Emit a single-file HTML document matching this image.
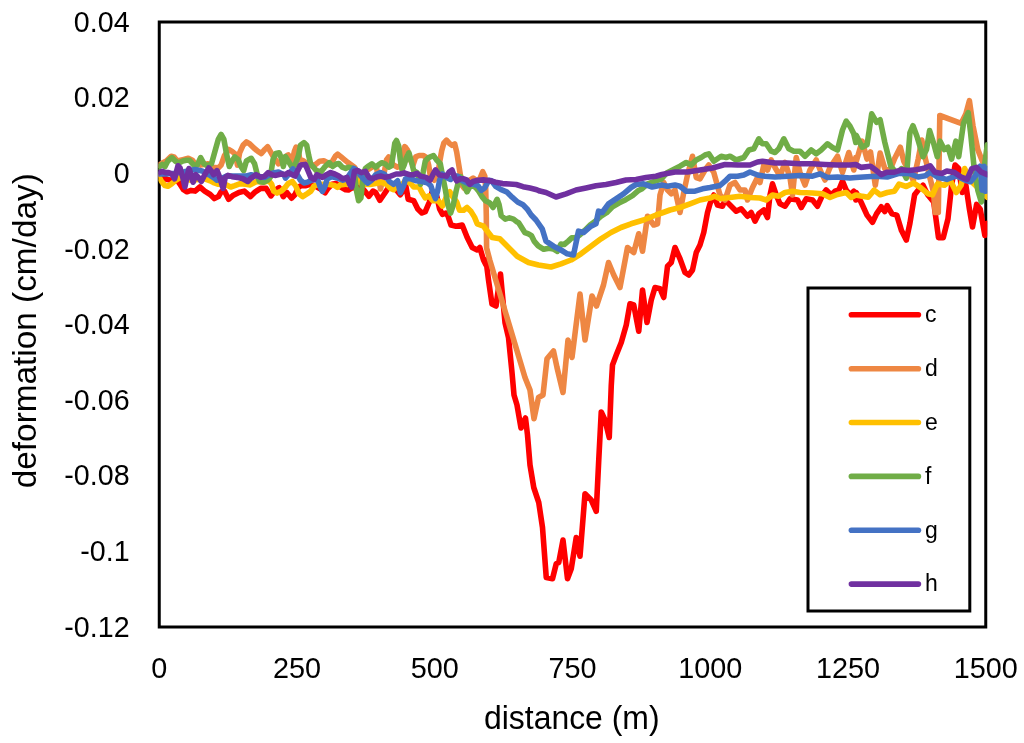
<!DOCTYPE html>
<html lang="en"><head><meta charset="utf-8"><title>deformation vs distance</title>
<style>html,body{margin:0;padding:0;background:#fff}body{width:1024px;height:743px;overflow:hidden}</style></head>
<body>
<svg width="1024" height="743" viewBox="0 0 1024 743" style="display:block;font-family:'Liberation Sans', Arial, sans-serif">
<rect x="0" y="0" width="1024" height="743" fill="#ffffff"/>
<defs><clipPath id="pc"><rect x="158.4" y="15" width="828.9" height="620"/></clipPath></defs>
<rect x="159.25" y="22.0" width="826.5" height="605.0" fill="none" stroke="#000" stroke-width="3"/>
<g clip-path="url(#pc)" fill="none" stroke-width="5.6" stroke-linejoin="round" stroke-linecap="round">
<polyline stroke="#FF0000" points="158.9,174.7 163.7,177.4 167.1,179.5 171.9,180.2 177.3,180.2 180.8,185.6 183.5,189.7 186.9,191.8 191.0,190.4 195.1,191.1 199.9,187.0 204.7,191.1 210.2,194.5 214.3,198.6 218.4,196.6 221.1,191.8 224.5,191.1 228.6,199.3 233.4,195.2 238.9,192.5 244.3,191.1 250.5,196.6 255.3,191.8 260.7,188.4 266.2,188.4 271.0,195.9 275.1,190.4 279.2,187.7 283.3,196.6 286.8,192.5 291.6,198.2 295.0,194.5 298.5,187.0 301.9,185.4 306.0,185.6 310.1,184.3 314.2,185.6 319.6,188.4 325.1,192.7 327.9,188.4 332.0,184.3 336.1,183.6 340.8,187.0 345.6,189.7 348.4,190.0 351.1,188.4 356.6,187.0 362.0,187.7 364.8,191.1 368.9,196.2 373.0,191.1 375.7,192.5 379.8,200.3 383.9,194.5 388.0,188.4 392.1,187.7 396.2,189.7 400.3,194.8 403.7,189.7 405.5,184.3 408.2,199.3 413.7,200.7 417.8,208.9 421.9,213.0 425.3,211.6 429.4,202.0 432.1,191.8 436.9,196.6 439.6,208.9 442.4,214.3 445.8,213.0 447.9,215.7 449.5,220.5 451.0,225.0 456.0,226.2 462.2,225.0 467.2,237.5 472.2,247.5 477.2,250.0 479.8,247.5 483.5,260.0 486.0,265.0 486,260 488.5,280 492,304 496,306 500.5,274 505,322.5 508.5,337.5 512,372.5 514,395 517,405 521,428 525.5,418 527.5,435 530,465 533.75,487.5 538.75,502.5 542.5,527.5 546.25,577.5 552.5,578.75 556.25,563.75 558.75,562.5 563,540 567.5,578.75 571.25,568.75 576.25,537.5 580,556.25 585,493.75 591.25,500 596.25,511.25 598.75,460 601.25,412 605,420 609.25,437.5 611.25,385.75 612.5,365 616.25,355 621.25,342.5 626.25,325 630,303.75 633.75,305 638.75,331.25 642.5,290 647,322.5 651.25,300 655,287.5 660,288.75 663.75,297.5 667.5,266.25 671.25,262.5 675,247.5 680,258.75 685,272.5 688.75,275 692.5,270 696.25,252.5 700,245 703.75,232.5 707.5,212.5 710,203.75 713.8,195.0 717.5,205.0 722.5,206.2 725.0,200.0 730.0,205.0 736.2,211.2 741.2,208.8 747.5,216.2 751.2,212.5 755.0,221.2 758.8,213.8 763.8,210.0 767.5,217.5 770.0,195.0 772.5,183.8 776.2,195.0 780.0,203.8 785.0,206.2 790.0,198.8 797.5,200.0 801.2,207.5 806.2,198.8 812.5,200.0 817.5,206.2 822.5,195.0 826.2,190.0 831.2,195.0 835.0,191.2 838.8,190.0 842.5,181.2 846.2,190.0 850.0,195.0 853.8,191.2 855.8,200.0 856.2,192.5 861.0,202.0 867.0,215.1 872.5,222.2 876.5,213.9 881.3,206.8 884.8,211.5 887.2,205.6 892.0,213.9 896.8,215.1 901.5,230.6 906.3,240.1 909.9,223.4 914.6,194.8 918.2,190.1 923.0,185.3 927.7,194.8 933.7,202.0 938.5,237.7 943.2,237.7 948.0,218.7 951.6,185.3 955.1,165.1 958.7,168.6 962.3,192.5 965.9,185.3 969.4,209.1 972.5,227.0 976.6,204.4 980.2,209.1 984.9,235.4 987.3,223.4"/>
<polyline stroke="#EE8743" points="158.9,165.1 162.3,163.1 166.4,161.0 171.2,156.2 173.9,156.9 177.3,161.0 182.8,159.6 188.3,158.3 192.4,160.3 195.1,163.8 200.6,165.1 208.1,163.8 211.5,167.2 218.4,167.9 221.1,165.1 224.5,155.5 228.6,149.4 232.0,151.4 235.4,154.2 237.5,165.1 239.6,152.8 243.0,145.3 246.4,141.9 249.8,143.9 253.9,148.0 258.0,151.4 261.4,153.5 264.8,149.4 267.6,146.7 270.3,151.4 273.0,156.2 278.5,163.8 285.5,156.6 288.2,154.9 292.3,161.0 294.4,151.4 296.1,147.1 298.0,149.4 299.8,159.6 303.2,160.7 307.3,163.8 311.4,165.8 315.5,164.4 319.6,161.3 323.8,160.7 327.2,162.4 329.9,165.1 332.6,161.0 335.4,156.2 337.7,154.2 340.8,156.6 344.3,159.6 347.7,162.4 351.1,164.8 354.5,167.2 357.2,172.0 360.0,180.2 362.0,174.7 364.8,170.6 368.9,169.2 373.0,166.5 376.4,167.2 378.4,177.4 380.5,189.0 382.5,180.2 384.6,170.6 386.6,159.6 388.7,156.9 391.0,161.0 393.5,165.1 397.6,167.2 401.0,165.1 403.0,151.4 404.7,146.7 405.5,147.3 407.5,150.1 410.3,159.6 413.0,165.1 415.7,156.9 419.1,155.5 423.2,155.5 426.7,157.6 428.7,165.1 430.1,174.7 434.2,180.2 438.3,172.0 439.6,162.4 441.7,150.8 443.8,143.2 446.5,140.2 449.2,143.2 452.0,145.3 454.7,143.9 456.7,152.1 458.8,165.1 460.8,177.4 462.2,185.6 464.3,188.4 468.4,181.2 473.1,178.1 477.2,181.2 480.0,178.5 482.7,171.7 484.8,176.1 485.7,188.4 486.3,215.7 486.6,248.0 489.75,260 525,377.5 530,390 534,418.75 538.5,397.5 543,395 547,358.75 553.5,351 557,367.5 563,392.5 568,340 572,357.5 580,294 585,340 592,296 596.5,306 603.5,285 608.5,262.5 613.75,275 620,287.5 627.5,247.5 633.75,252.5 638.75,233.75 642.5,251.25 647.5,216.25 653.75,225 657.5,223.75 660,195 663.75,182.5 667.5,190 671.25,193.75 675,190 680,212.5 683.75,192.5 687.5,175 692.5,156.25 696.25,177.5 700.0,178.8 705.0,170.0 708.8,165.0 713.8,172.5 720.0,195.0 725.0,200.0 730.0,185.0 735.0,182.5 740.0,190.0 745.0,190.0 747.5,200.0 752.5,187.5 757.5,177.5 760.0,182.5 763.8,165.0 767.5,170.0 771.2,160.0 775.0,167.5 780.0,176.2 785.0,162.5 790.0,177.5 792.5,195.0 796.2,157.5 800.0,172.5 805.0,185.0 810.0,170.0 816.2,160.0 821.2,172.5 825.0,180.0 830.0,167.5 837.5,156.2 842.5,172.5 848.8,152.5 853.8,170.0 855.8,157.5 856.2,161.5 862.2,141.2 867.0,159.1 870.5,152.0 875.3,185.3 880.1,153.1 884.8,168.6 889.6,171.0 894.4,159.1 900.3,147.2 903.9,161.5 908.7,171.0 913.4,180.5 918.2,159.1 921.8,140.0 925.4,159.1 926.5,163 930,178 933.5,192 935.2,212.5 938.3,212.5 939.8,115.5 961.1,123.4 965.9,113.8 969.4,100.7 973.0,125.7 977.8,149.6 982.5,161.5 987.3,154.3"/>
<polyline stroke="#FFC000" points="158.9,176.7 161.6,181.5 165.0,185.6 167.8,186.3 171.9,183.6 176.0,180.2 180.1,177.4 191.0,180.2 204.7,178.8 210.2,180.8 214.3,182.9 218.4,184.3 226.6,184.9 230.7,187.0 234.8,185.6 240.2,183.6 245.7,184.3 249.8,184.9 256.6,181.5 263.5,182.2 268.9,180.8 271.7,184.3 273.7,191.1 277.1,193.1 281.2,191.1 285.5,187.0 288.2,183.6 292.3,181.5 295.7,185.9 299.1,193.8 302.6,196.6 307.3,193.6 310.8,191.1 314.2,185.9 319.6,184.3 327.9,184.3 334.7,185.6 337.4,187.3 340.2,184.9 345.6,184.3 352.5,183.6 359.3,180.8 362.0,184.3 370.2,184.5 375.7,183.6 381.2,182.2 386.6,184.3 390.7,188.4 393.5,189.7 396.2,187.0 403.0,183.6 405.5,180.2 410.9,183.6 413.7,187.0 419.1,187.0 421.9,192.5 425.3,197.9 428.7,195.9 432.8,200.7 438.3,200.7 442.4,206.1 446.5,196.6 449.9,191.8 452.6,196.6 456.7,202.0 459.5,210.2 463.6,210.2 467.0,207.5 471.1,211.6 474.5,217.1 477.2,223.8 483.5,226.2 492.2,237.5 499.8,238.8 508.5,247.5 517.2,256.2 528.5,262.5 538.5,265.0 551.0,267.0 561.0,263.8 571.0,260.0 581.0,253.8 591.0,246.2 601.0,238.8 611.0,232.5 621.0,227.5 631.0,223.8 643.5,220.0 656.0,215.0 661.8,213.0 670.0,210.0 680.0,207.5 690.0,203.8 700.0,200.0 710.0,198.0 715.0,196.2 720.0,198.8 730.0,197.5 740.0,196.2 750.0,197.5 760.0,198.0 766.2,200.0 772.5,195.0 778.8,196.2 785.0,192.5 792.5,191.2 800.0,192.5 812.5,193.0 822.5,193.8 830.0,197.5 837.5,194.5 846.2,192.5 851.2,197.5 855.8,195.0 861.0,196.0 868.2,197.2 874.1,190.1 880.1,194.8 887.2,192.5 894.4,191.3 899.1,184.1 906.3,186.5 913.4,182.9 920.6,187.7 927.7,193.7 932.5,194.8 937.3,184.1 944.4,185.3 950.4,180.5 956.3,192.5 961.1,185.3 964.7,168.6 968.2,175.8 973.0,182.9 980.2,190.1 987.3,197.2"/>
<polyline stroke="#70AD47" points="158.9,167.2 162.3,164.4 165.0,166.5 167.8,161.0 171.9,157.6 175.3,161.0 178.7,163.1 182.8,161.0 186.2,160.3 189.6,160.3 193.8,165.1 197.2,165.1 200.6,157.6 204.0,163.8 207.4,165.8 211.5,163.8 214.9,151.4 218.4,139.1 221.1,134.4 223.8,139.1 226.6,154.2 229.3,166.5 232.0,161.0 234.8,156.9 238.2,159.6 240.9,166.5 243.7,170.6 246.4,161.0 251.2,158.3 254.6,163.8 257.3,174.7 259.4,181.5 263.5,182.2 267.6,180.2 270.3,177.4 273.0,159.6 275.8,153.5 279.2,152.8 281.9,159.6 283.3,166.5 285.5,156.6 288.2,161.0 291.6,166.5 295.0,165.1 298.5,155.5 300.5,145.3 303.9,142.6 306.7,145.3 308.7,155.5 310.8,164.4 313.5,167.2 316.2,170.6 321.0,171.7 325.1,166.5 329.2,162.7 332.6,166.5 336.1,164.0 338.8,163.5 342.2,167.2 345.6,168.5 348.4,167.2 351.8,167.9 354.5,174.7 356.6,191.1 358.6,200.7 360.9,197.9 363.1,177.4 365.4,168.5 368.9,165.8 371.9,163.8 375.7,167.2 379.1,164.4 381.9,162.7 385.3,164.0 388.7,167.2 391.4,165.8 393.2,154.2 394.8,143.2 396.5,140.5 398.7,146.0 400.3,159.6 402.0,169.9 404.1,165.1 406.2,158.3 408.9,152.8 411.6,162.4 413.7,170.6 417.1,172.6 420.5,184.3 423.2,172.0 425.3,161.0 428.7,157.6 433.5,155.5 436.9,160.3 440.3,163.8 442.4,174.7 445.1,188.4 447.9,204.8 450.6,213.0 453.3,204.8 456.1,191.1 458.8,180.2 460.8,176.7 464.3,185.6 467.0,191.8 469.7,187.0 472.5,185.6 475.9,187.7 478.6,191.1 482.0,196.6 485.4,200.7 489.6,202.7 493.0,207.5 497.1,199.3 499.1,204.8 501.2,215.7 505.3,219.1 509.4,217.8 513.5,219.1 516.9,221.9 518.5,222.5 524.8,232.5 528.5,233.8 531.4,235.6 534.1,241.1 538.2,245.9 543.7,249.3 549.1,248.2 553.2,248.9 557.3,251.3 560.8,244.1 564.2,244.5 568.3,241.1 571.7,237.9 575.1,237.7 579.2,235.4 584.7,230.4 590.2,225.0 595.6,220.9 601.1,216.1 606.6,212.7 612.0,207.2 618.9,203.1 625.7,199.7 632.5,195.6 638.0,190.8 642.1,188.7 647.6,183.9 653.0,181.9 661.2,179.2 666.7,173.0 675.0,168.8 680.0,166.2 686.2,162.5 691.2,165.0 696.2,160.0 701.2,157.5 705.0,155.0 708.8,153.8 713.8,161.2 721.2,156.2 726.2,157.5 730.0,156.2 736.2,160.0 743.8,157.5 748.8,150.0 753.8,148.8 758.8,138.8 762.5,143.8 766.2,143.8 771.2,151.2 775.0,152.5 778.8,148.8 783.8,138.8 788.8,148.8 793.8,151.2 800.0,151.2 805.0,156.2 811.2,150.0 816.2,153.8 821.2,150.0 827.5,143.8 832.5,147.5 837.5,150.0 842.5,130.0 846.2,121.2 850.0,126.2 853.8,133.8 855.8,142.5 856.2,135.3 862.2,147.2 867.0,144.8 871.7,113.8 876.5,122.2 880.1,119.8 884.8,142.4 890.8,166.2 896.8,173.4 901.5,168.6 906.3,178.2 909.9,132.9 913.0,125.7 917.0,136.5 923.0,156.7 926.5,149.6 929.6,130.5 933.7,143.6 937.3,156.7 940.1,141.2 944.4,149.6 948.0,147.2 951.6,159.1 955.9,141.2 958.7,156.7 963.5,123.4 968.2,112.6 970.6,132.9 974.2,168.6 977.8,190.1 981.3,202.0 984.4,166.2 987.3,144.8"/>
<polyline stroke="#4472C4" points="158.9,174.0 166.4,174.0 174.6,173.3 184.2,171.7 191.0,170.3 195.1,169.5 202.0,170.9 208.8,174.7 214.3,178.1 217.0,180.2 221.1,178.8 226.6,176.1 234.8,176.1 245.7,176.1 251.2,174.7 256.6,176.1 264.8,177.4 273.0,173.0 278.5,172.0 284.0,174.7 285.5,178.1 288.2,174.7 293.0,168.9 296.4,173.3 300.5,180.2 303.9,182.9 307.3,182.2 311.4,180.2 315.5,178.8 318.3,181.5 320.3,187.0 322.4,191.4 324.8,187.0 327.2,178.8 332.0,176.7 337.4,178.1 342.9,180.2 347.0,178.8 350.4,173.3 353.8,168.5 357.2,170.6 360.0,174.7 362.7,178.1 367.5,183.2 371.6,180.2 375.7,174.7 380.5,172.6 384.6,174.4 389.4,181.5 393.5,184.3 397.6,180.8 400.3,192.7 403.7,185.6 405.5,178.8 410.9,178.8 416.4,180.8 421.9,181.5 427.3,182.9 430.8,185.6 433.5,193.8 435.5,198.6 437.6,191.1 439.6,180.2 442.4,174.0 446.5,177.4 450.6,179.5 454.0,176.1 457.4,176.1 461.5,180.2 465.6,182.2 469.7,184.3 473.8,184.3 477.9,185.6 481.3,190.4 484.8,187.7 488.9,180.2 491.6,180.8 495.7,186.3 501.2,189.7 506.6,191.8 512.1,197.2 517.6,202.0 523.0,204.8 527.1,208.9 531.2,215.0 536.0,220.0 542.2,228.8 546.0,241.2 553.5,246.2 561.0,250.0 567.2,253.8 573.5,255.0 578.5,231.2 583.5,232.5 591.0,226.2 596.0,223.8 598.5,211.2 602.2,212.5 608.5,203.8 616.0,198.8 623.5,193.8 631.0,187.5 636.0,184.5 643.5,183.8 652.2,187.0 661.8,185.0 667.5,186.2 675.0,185.0 680.0,186.2 686.2,191.2 695.0,191.2 702.5,188.8 710.0,187.5 720.0,185.5 725.0,181.2 730.0,176.2 737.5,176.2 743.8,175.0 750.0,172.0 757.5,175.0 765.0,176.2 775.0,177.0 787.5,176.2 800.0,175.5 812.5,176.2 820.0,173.8 827.5,177.5 837.5,177.0 850.0,178.0 855.8,177.5 863.4,177.0 875.3,176.3 887.2,177.0 899.1,173.4 908.7,173.4 918.2,177.0 925.4,175.8 930.1,172.2 937.3,177.0 946.8,179.4 956.3,175.8 965.9,180.5 970.6,181.7 975.4,175.8 980.2,166.2 982.1,190.1 984.0,166.2 985.6,191.3 987.3,168.6"/>
<polyline stroke="#7030A0" points="158.9,172.6 162.3,171.3 165.0,172.6 168.5,172.6 171.9,174.0 174.6,178.8 178.0,165.8 180.1,167.9 182.8,177.4 184.9,187.0 186.9,177.4 189.0,168.5 191.0,174.7 193.1,182.2 195.8,174.7 198.5,177.4 201.3,181.5 204.7,174.7 208.8,167.9 211.5,171.3 213.6,174.7 217.0,170.6 219.7,177.4 223.1,188.4 225.2,177.4 227.9,175.4 232.0,176.7 237.5,177.4 243.0,178.8 247.8,181.5 251.2,178.1 256.0,174.7 260.7,177.4 264.8,176.1 268.3,172.6 271.7,174.7 275.8,175.4 281.2,174.0 285.5,174.7 288.2,172.6 292.3,174.7 295.0,176.1 300.5,165.1 305.3,164.4 308.0,170.6 310.8,177.4 314.2,179.5 316.9,174.7 319.6,176.1 322.4,177.4 326.5,174.7 330.6,172.6 334.7,174.0 338.8,176.1 342.9,178.8 347.0,177.4 349.7,184.3 351.8,187.0 354.5,171.3 357.9,170.6 361.3,172.6 365.4,171.3 368.9,177.4 373.0,178.8 377.1,176.7 381.2,176.1 385.3,177.4 390.7,176.1 396.2,174.0 400.3,174.0 404.4,172.9 405.5,173.3 409.6,174.7 413.7,174.7 417.1,173.3 420.5,176.1 426.0,177.4 430.1,180.2 432.8,174.7 435.5,169.9 439.0,174.7 442.4,175.4 446.5,176.1 449.2,172.0 452.0,169.9 454.7,177.4 456.7,180.8 460.2,178.8 463.6,178.8 467.0,180.2 469.7,184.3 473.1,181.5 477.9,180.2 483.4,179.9 490.2,180.8 495.7,182.2 502.5,183.6 509.4,184.0 516.2,184.5 523.0,186.7 529.9,188.1 536.7,189.7 539.9,191.1 546.0,192.5 556.0,197.0 566.0,193.8 576.0,190.0 586.0,188.0 596.0,185.8 606.0,184.5 616.0,182.5 626.0,180.0 636.0,179.5 646.0,177.5 656.0,176.2 661.8,174.5 675.0,172.0 687.5,172.0 700.0,170.0 712.5,168.0 725.0,164.5 737.5,165.0 750.0,165.0 757.5,162.0 762.5,161.2 775.0,163.0 787.5,163.0 800.0,163.8 812.5,163.8 825.0,164.5 837.5,165.0 850.0,165.0 855.8,164.5 861.0,167.4 870.5,166.2 875.3,169.8 881.3,174.6 887.2,172.2 894.4,172.2 901.5,169.8 908.7,170.5 915.8,169.8 923.0,168.6 930.1,165.8 934.9,172.2 942.0,173.4 946.8,171.0 953.9,172.2 961.1,177.0 967.1,179.4 971.8,168.6 976.6,167.4 981.3,172.2 987.3,174.6"/>
</g>
<text transform="translate(129.6,31.7) scale(0.955,1)" font-size="30" text-anchor="end">0.04</text>
<text transform="translate(129.6,107.3) scale(0.955,1)" font-size="30" text-anchor="end">0.02</text>
<text transform="translate(129.6,182.9) scale(0.955,1)" font-size="30" text-anchor="end">0</text>
<text transform="translate(129.6,258.6) scale(0.955,1)" font-size="30" text-anchor="end">-0.02</text>
<text transform="translate(129.6,334.2) scale(0.955,1)" font-size="30" text-anchor="end">-0.04</text>
<text transform="translate(129.6,409.8) scale(0.955,1)" font-size="30" text-anchor="end">-0.06</text>
<text transform="translate(129.6,485.4) scale(0.955,1)" font-size="30" text-anchor="end">-0.08</text>
<text transform="translate(129.6,561.1) scale(0.955,1)" font-size="30" text-anchor="end">-0.1</text>
<text transform="translate(129.6,636.7) scale(0.955,1)" font-size="30" text-anchor="end">-0.12</text>
<text transform="translate(159.2,677.7) scale(0.96,1)" font-size="30" text-anchor="middle">0</text>
<text transform="translate(297.0,677.7) scale(0.96,1)" font-size="30" text-anchor="middle">250</text>
<text transform="translate(434.8,677.7) scale(0.96,1)" font-size="30" text-anchor="middle">500</text>
<text transform="translate(572.5,677.7) scale(0.96,1)" font-size="30" text-anchor="middle">750</text>
<text transform="translate(710.2,677.7) scale(0.96,1)" font-size="30" text-anchor="middle">1000</text>
<text transform="translate(848.0,677.7) scale(0.96,1)" font-size="30" text-anchor="middle">1250</text>
<text transform="translate(985.8,677.7) scale(0.96,1)" font-size="30" text-anchor="middle">1500</text>
<text x="571.8" y="729" font-size="32.5" text-anchor="middle" textLength="175.6" lengthAdjust="spacingAndGlyphs">distance (m)</text>
<text transform="translate(36.3,330.75) rotate(-90)" font-size="32.5" text-anchor="middle" textLength="315" lengthAdjust="spacingAndGlyphs">deformation (cm/day)</text>
<rect x="808" y="288" width="161.8" height="323" fill="#fff" stroke="#000" stroke-width="3"/>
<line x1="851.4" y1="314.8" x2="918.4" y2="314.8" stroke="#FF0000" stroke-width="5.6" stroke-linecap="round"/>
<text x="925.0" y="322.1" font-size="23">c</text>
<line x1="851.4" y1="368.7" x2="918.4" y2="368.7" stroke="#EE8743" stroke-width="5.6" stroke-linecap="round"/>
<text x="925.0" y="376.0" font-size="23">d</text>
<line x1="851.4" y1="422.5" x2="918.4" y2="422.5" stroke="#FFC000" stroke-width="5.6" stroke-linecap="round"/>
<text x="925.0" y="429.8" font-size="23">e</text>
<line x1="851.4" y1="476.4" x2="918.4" y2="476.4" stroke="#70AD47" stroke-width="5.6" stroke-linecap="round"/>
<text x="925.0" y="483.7" font-size="23">f</text>
<line x1="851.4" y1="530.2" x2="918.4" y2="530.2" stroke="#4472C4" stroke-width="5.6" stroke-linecap="round"/>
<text x="925.0" y="537.5" font-size="23">g</text>
<line x1="851.4" y1="584.1" x2="918.4" y2="584.1" stroke="#7030A0" stroke-width="5.6" stroke-linecap="round"/>
<text x="925.0" y="591.4" font-size="23">h</text>
</svg>
</body></html>
